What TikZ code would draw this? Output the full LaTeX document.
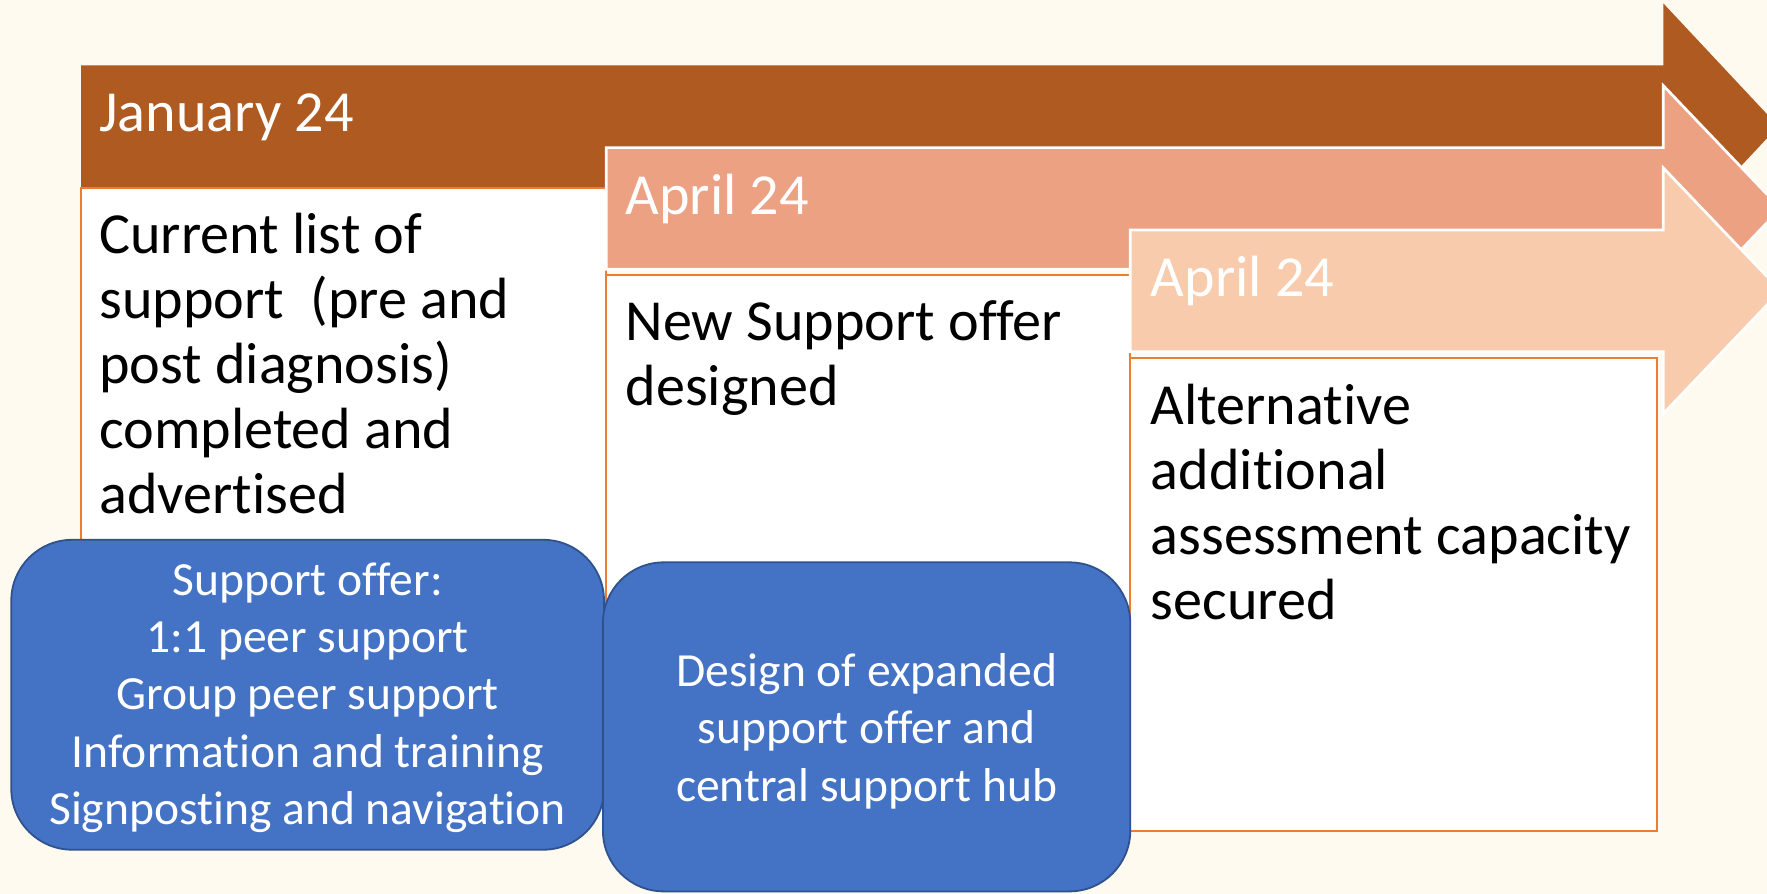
\documentclass[tikz,border=0pt]{standalone}
\usepackage{fontspec}
\setmainfont[Ligatures=NoCommon]{Carlito}
\definecolor{bgcol}{HTML}{FFFAF0}
\definecolor{darkarr}{HTML}{AE5A21}
\definecolor{midarr}{HTML}{ECA183}
\definecolor{lightarr}{HTML}{F8CBAD}
\definecolor{orangeline}{HTML}{ED7D31}
\definecolor{bluefill}{HTML}{4472C4}
\definecolor{blueline}{HTML}{2F528F}
\tikzset{
  arrowshape/.style={draw=white, line width=2.4pt, line join=miter},
  whitebox/.style={draw=orangeline, fill=white, line width=1.8pt},
  bluebox/.style={draw=blueline, fill=bluefill, line width=1.6pt, rounded corners=54pt},
  hdrtxt/.style={anchor=base west, inner sep=0pt, text=white, font=\fontsize{51.6}{57.7}\selectfont},
  bodytxt/.style={anchor=base west, inner sep=0pt, text=black, font=\fontsize{51.6}{57.7}\selectfont},
  bluetxt/.style={anchor=base, inner sep=0pt, text=white, font=\fontsize{42.2}{51}\selectfont},
}
\begin{document}
\begin{tikzpicture}[x=1pt,y=-1pt]
\useasboundingbox[fill=bgcol] (0,0) rectangle (1568,793.3);
% arrow 1
\path[fill=darkarr] (72,58) -- (1476,58) -- (1476,3) -- (1578,112) -- (1476,221) -- (1476,166) -- (72,166) -- cycle;
\draw[whitebox] (72,167) rectangle (538,586);
\node[hdrtxt] (h1) at (88,117) {January 24};
\node[bodytxt] (t1) at (88,225) {\parbox[t]{450pt}{\raggedright Current list of\\support\ \ (pre and\\post diagnosis)\\completed and\\advertised}};
% arrow 2
\path[arrowshape, fill=midarr] (538,131) -- (1476,131) -- (1476,76) -- (1580,185) -- (1476,294) -- (1476,239) -- (538,239) -- cycle;
\draw[whitebox] (538,244) rectangle (1003,662);
\node[hdrtxt] (h2) at (555,190) {April 24};
\node[bodytxt] (t2) at (555,302) {\parbox[t]{440pt}{\raggedright New Support offer\\designed}};
% arrow 3
\path[arrowshape, fill=lightarr] (1003,204) -- (1476,204) -- (1476,149) -- (1580,258) -- (1476,367) -- (1476,312) -- (1003,312) -- cycle;
\draw[whitebox] (1003,318) rectangle (1470,737);
\node[hdrtxt] (h3) at (1021,263) {April 24};
\node[bodytxt] (t3) at (1021,377) {\parbox[t]{440pt}{\raggedright Alternative\\additional\\assessment capacity\\secured}};
% blue boxes
\draw[bluebox] (10,479) rectangle (536,754);
\node[bluetxt] (b1) at (273,528) {\parbox[t]{520pt}{\centering Support offer:\\1:1 peer support\\Group peer support\\Information and training\\Signposting and navigation}};
\draw[bluebox] (535,499) rectangle (1003,791);
\node[bluetxt] (b2) at (769,609) {\parbox[t]{460pt}{\centering Design of expanded\\support offer and\\central support hub}};
\end{tikzpicture}
\end{document}
